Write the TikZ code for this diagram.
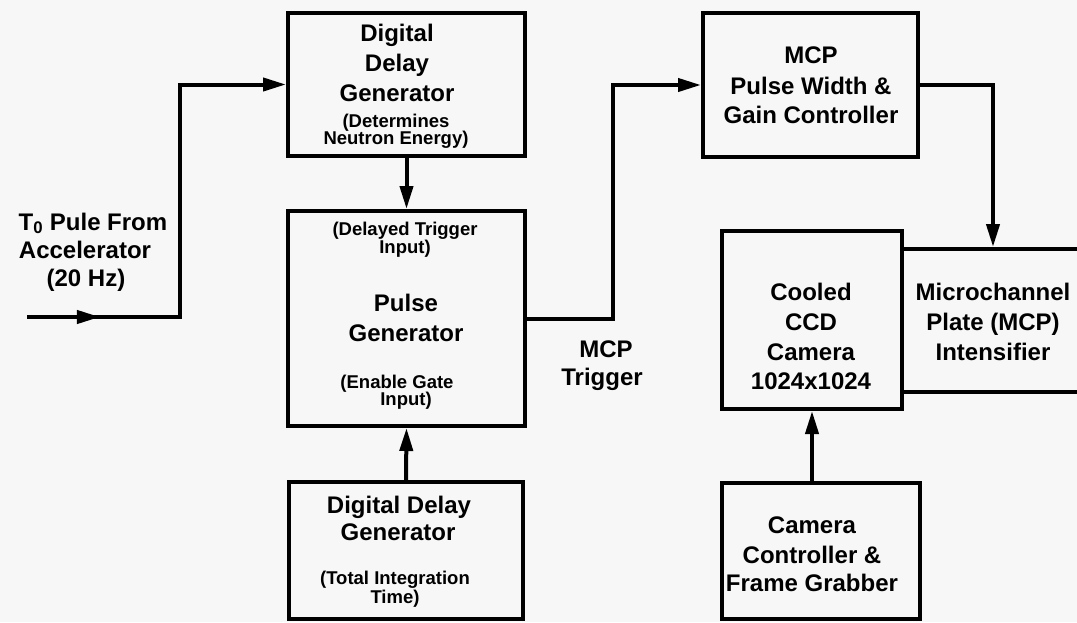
\documentclass[tikz,border=0pt]{standalone}
\usepackage{fontspec}
\setmainfont{Liberation Sans}
\usetikzlibrary{arrows.meta,decorations.markings}
\definecolor{paper}{RGB}{247,247,247}
\begin{document}
\begin{tikzpicture}[x=1pt,y=-1pt,
  box/.style={draw, line width=4pt, inner sep=0pt, line join=miter},
  wire/.style={line width=4pt, line cap=rect, line join=miter},
  tip/.style={-{Triangle[length=23pt,width=13pt]}},
  midtip/.style={postaction=decorate, decoration={markings,
      mark=at position #1 with {\arrow{Triangle[length=23pt,width=13pt]}}}},
  big/.style={font=\bfseries\fontsize{24}{30}\selectfont, anchor=base, inner sep=0pt},
  small/.style={font=\bfseries\fontsize{18.5}{18}\selectfont, anchor=base, inner sep=0pt}]

% page
\fill[paper] (0,0) rectangle (1077,622);
\useasboundingbox (0,0) rectangle (1077,622);
\clip (0,0) rectangle (1077,622);

% boxes
\node[box, minimum width=237pt, minimum height=143pt] (ddgA) at (406.5,84.5) {};
\node[box, minimum width=237pt, minimum height=215pt] (pg) at (406.5,318.5) {};
\node[box, minimum width=234pt, minimum height=137pt] (ddgB) at (406,550.5) {};
\node[box, minimum width=215pt, minimum height=144pt] (mcp) at (810.5,85) {};
\node[box, minimum width=180pt, minimum height=178pt] (ccd) at (812,320) {};
\node[box, minimum width=182pt, minimum height=143pt] (intens) at (993,320.5) {};
\node[box, minimum width=198pt, minimum height=136pt] (cam) at (821,551) {};

% box texts
\node[big] (ddgA1) at (397,41) {Digital};
\node[big] (ddgA2) at (397,71) {Delay};
\node[big] (ddgA3) at (397,101) {Generator};
\node[small] (ddgA4) at (396,127) {(Determines};
\node[small] (ddgA5) at (396,144) {Neutron Energy)};

\node[small] (pg1) at (405,235.5) {(Delayed Trigger};
\node[small] (pg2) at (405,253) {Input)};
\node[big] (pg3) at (406,311) {Pulse};
\node[big] (pg4) at (406,341) {Generator};
\node[small] (pg5) at (397,388.5) {(Enable Gate};
\node[small] (pg6) at (406,405.5) {Input)};

\node[big] (ddgB1) at (399,513) {Digital Delay};
\node[big] (ddgB2) at (398,540) {Generator};
\node[small] (ddgB3) at (395,584.5) {(Total Integration};
\node[small] (ddgB4) at (395,603.5) {Time)};

\node[big] (mcp1) at (811,63) {MCP};
\node[big] (mcp2) at (811,94) {Pulse Width \&};
\node[big] (mcp3) at (811,123) {Gain Controller};

\node[big] (ccd1) at (811,300) {Cooled};
\node[big] (ccd2) at (811,330) {CCD};
\node[big] (ccd3) at (811,360) {Camera};
\node[big] (ccd4) at (811,389) {1024x1024};

\node[big] (int1) at (993,300) {Microchannel};
\node[big] (int2) at (993,330) {Plate (MCP)};
\node[big] (int3) at (993,360) {Intensifier};

\node[big] (cam1) at (812,533) {Camera};
\node[big] (cam2) at (812,563) {Controller \&};
\node[big] (cam3) at (812,591) {Frame Grabber};

% free labels
\node[big] (src1) at (93,230) {T\textsubscript{0} Pule From};
\node[big] (src2) at (85,258) {Accelerator};
\node[big] (src3) at (86,286) {(20 Hz)};

\node[big] (trg1) at (606,357) {MCP};
\node[big] (trg2) at (602,385) {Trigger};

% connectors
\coordinate (src) at (29,317);
\coordinate (bend) at (180,317);
\coordinate (trig) at (613,200);

\draw[wire, midtip=0.47] (src) -- (bend);
\draw[wire, tip] (bend) |- (ddgA.west);
\draw[wire, tip] (ddgA.south) -- (pg.north);
\draw[wire, tip] (ddgB.north) -- (pg.south);
\draw[wire, tip] (pg.east) -| (trig) |- (mcp.west);
\draw[wire, tip] (mcp.east) -| (intens.north);
\draw[wire, tip] (ccd.south |- cam.north) -- (ccd.south);
\end{tikzpicture}
\end{document}
